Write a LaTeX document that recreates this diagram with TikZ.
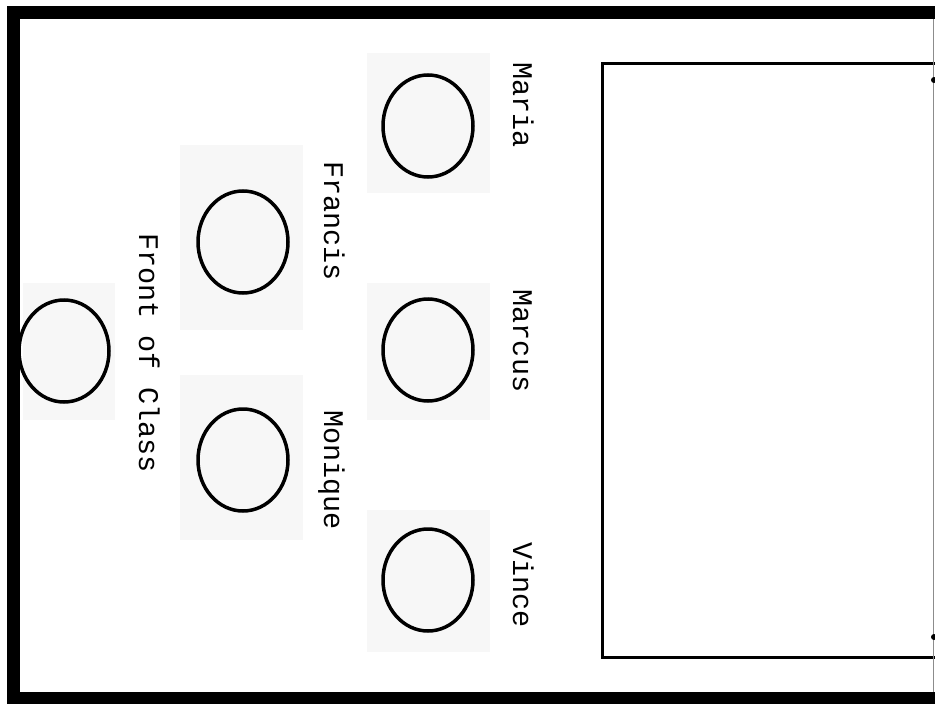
\documentclass[tikz,border=0pt]{standalone}
\usepackage{fontspec}
\setmonofont{Liberation Mono}
\usetikzlibrary{shapes.geometric}

\begin{document}
\begin{tikzpicture}[
    x=1pt, y=-1pt,
    seat/.style={
        draw, ellipse, line width=3.5pt, minimum width=90pt, minimum height=102pt,
        inner sep=0pt
    },
    patch/.style={fill=black!3, draw=none},
    who/.style={
        font=\fontsize{28.5}{30}\selectfont\ttfamily, rotate=-90, anchor=base,
        inner sep=0pt
    },
    frame/.style={line width=13pt},
    desk/.style={line width=3pt},
]
\useasboundingbox (0,0) rectangle (935,704);
\clip (0,0) rectangle (935,704);

% Room
\draw[frame] (13.5,12.5) rectangle (960,698);
\draw[desk] (602.5,63) rectangle (980,657);
\draw[black!45, line width=1pt] (933.5,19) -- (933.5,692);
\fill (934,80) circle (3pt);
\fill (934,637) circle (3pt);

% Faded backgrounds
\fill[patch] (23,283)   rectangle (115,420);
\fill[patch] (180,145)  rectangle (303,330);
\fill[patch] (180,375)  rectangle (303,540);
\fill[patch] (367,53)   rectangle (490,193);
\fill[patch] (367,283)  rectangle (490,420);
\fill[patch] (367,510)  rectangle (490,652);

% Seats
\node[seat] (front)   at (64,351)  {};
\node[seat] (francis) at (243,242) {};
\node[seat] (monique) at (243,460) {};
\node[seat] (maria)   at (428,126) {};
\node[seat] (marcus)  at (428,350) {};
\node[seat] (vince)   at (428,580) {};

% Names
\node[who] (frontName)   at (139,353) {Front of Class};
\node[who] (francisName) at (324,221) {Francis};
\node[who] (moniqueName) at (324,470) {Monique};
\node[who] (mariaName)   at (513,105) {Maria};
\node[who] (marcusName)  at (513,341) {Marcus};
\node[who] (vinceName)   at (513,585) {Vince};

\end{tikzpicture}
\end{document}
